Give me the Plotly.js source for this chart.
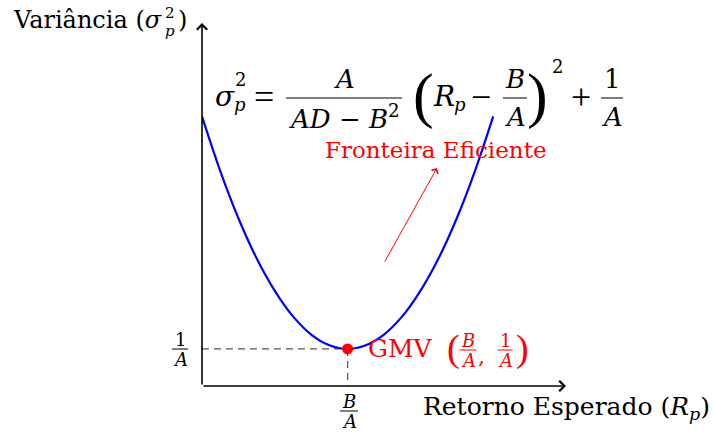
<!DOCTYPE html>
<html>
<head>
<meta charset="utf-8">
<script src="https://cdn.plot.ly/plotly-3.0.1.min.js"></script>
<style>
  body { margin: 0; background: #fff; }
  #chart { width: 713px; height: 434px; }
</style>
</head>
<body>
<div id="chart"></div>
<script>
// curve (Rp vs sigma^2), vertex at GMV
const retorno = [0, 0.25, 0.5, 0.75, 1, 1.25, 1.5, 1.75, 2, 2.25, 2.5, 2.75, 3, 3.25, 3.5, 3.75, 4];
const variancia = [7.28, 5.81, 4.53, 3.45, 2.57, 1.88, 1.39, 1.10, 1.0, 1.10, 1.39, 1.88, 2.57, 3.45, 4.53, 5.81, 7.28];
const gmvX = [2];
const gmvY = [1];
const xMax = 5;
const yMax = 9.8;

// plot box in pixels; text pieces are placed in paper units from pixel spots
const X0 = 202, Y0 = 386, W = 364, H = 363;
const px2 = px => (px - X0) / W;
const py2 = py => (Y0 - py) / H;

const FONT = 'DejaVu Serif';
const THIN = 'Liberation Serif';
const annotations = [];
const shapes = [];

function txt(px, py, text, size, color, xanchor, family) {
  annotations.push({
    x: px2(px), y: py2(py), xref: 'paper', yref: 'paper',
    text: text, showarrow: false,
    xanchor: xanchor || 'center', yanchor: 'middle',
    font: { family: family || FONT, size: size, color: color || '#000' }
  });
}

function frac(cx, barY, w, num, den, size, color, gapN, gapD) {
  txt(cx, barY - gapN, num, size, color);
  txt(cx, barY + gapD, den, size, color);
  shapes.push({
    type: 'line', xref: 'paper', yref: 'paper',
    x0: px2(cx - w / 2), x1: px2(cx + w / 2), y0: py2(barY), y1: py2(barY),
    line: { color: color || '#000', width: 1 }
  });
}

// y-axis title
txt(164, 20, 'Variância (<i>σ</i>', 24, '#000', 'right');
txt(170, 13, '2', 15);
txt(170, 31, '<i>p</i>', 15);
txt(176, 20, ')', 24, '#000', 'left');

// x-axis title
txt(421, 408, 'Retorno Esperado (<i>R</i><sub><i>p</i></sub>)', 25, '#000', 'left');

// formula
txt(225, 96, '<i>σ</i>', 28);
txt(240, 79, '2', 18);
txt(240, 104, '<i>p</i>', 18);
txt(264, 97, '=', 36, '#000', 'center', THIN);
frac(344, 98, 116, '<i>A</i>', '<i>AD</i> − <i>B</i><sup>2</sup>', 26, '#000', 19, 19);
txt(423, 95, '(', 62, '#000', 'center', THIN);
txt(444, 96, '<i>R</i>', 28);
txt(460, 104, '<i>p</i>', 18);
txt(481, 97, '−', 36, '#000', 'center', THIN);
frac(515, 98, 24, '<i>B</i>', '<i>A</i>', 26, '#000', 19, 19);
txt(537, 95, ')', 62, '#000', 'center', THIN);
txt(557, 66, '2', 18);
txt(581, 97, '+', 36, '#000', 'center', THIN);
frac(612, 98, 22, '1', '<i>A</i>', 26, '#000', 19, 19);

// labels
txt(436, 150, 'Fronteira Eficiente', 23, '#ff0000');
txt(366, 348, 'GMV', 25, '#ff0000', 'left');
txt(453, 348, '(', 38, '#ff0000', 'center', THIN);
frac(468, 350, 17, '<i>B</i>', '<i>A</i>', 18, '#ff0000', 10, 10);
txt(481, 356, ',', 22, '#ff0000');
frac(505, 350, 15, '1', '<i>A</i>', 18, '#ff0000', 10, 10);
txt(522, 348, ')', 38, '#ff0000', 'center', THIN);

// tick labels
frac(180, 349, 16, '1', '<i>A</i>', 18, '#000', 10, 10);
frac(349, 411, 18, '<i>B</i>', '<i>A</i>', 18, '#000', 10, 10);

// axes with arrows
annotations.push({
  x: xMax, y: 0, ax: 0, ay: 0, xref: 'x', yref: 'y', axref: 'x', ayref: 'y',
  text: '', showarrow: true, arrowhead: 4, arrowsize: 1.25, arrowwidth: 1.6, arrowcolor: '#000'
});
annotations.push({
  x: 0, y: yMax, ax: 0, ay: 0, xref: 'x', yref: 'y', axref: 'x', ayref: 'y',
  text: '', showarrow: true, arrowhead: 4, arrowsize: 1.25, arrowwidth: 1.6, arrowcolor: '#000'
});
// pointer to the frontier label
annotations.push({
  x: px2(437), y: py2(168), ax: px2(384), ay: py2(263),
  xref: 'paper', yref: 'paper', axref: 'paper', ayref: 'paper',
  text: '', showarrow: true, arrowhead: 4, arrowsize: 1.4, arrowwidth: 1, arrowcolor: '#ff0000'
});

const data = [
  {
    x: [0, gmvX[0]], y: [gmvY[0], gmvY[0]], type: 'scatter', mode: 'lines',
    line: { color: '#555', width: 1.2, dash: '7px,5px' }, hoverinfo: 'skip'
  },
  {
    x: [gmvX[0], gmvX[0]], y: [gmvY[0], 0], type: 'scatter', mode: 'lines',
    line: { color: '#555', width: 1.2, dash: '7px,5px' }, hoverinfo: 'skip'
  },
  {
    x: retorno, y: variancia, type: 'scatter', mode: 'lines',
    line: { color: '#0000ff', width: 2.2, shape: 'spline' }
  },
  {
    x: gmvX, y: gmvY, type: 'scatter', mode: 'markers',
    marker: { color: '#ff0000', size: 11 }
  }
];

const layout = {
  width: 713, height: 434,
  margin: { l: X0, r: 713 - X0 - W, t: Y0 - H, b: 434 - Y0 },
  paper_bgcolor: '#fff', plot_bgcolor: '#fff',
  showlegend: false,
  xaxis: { range: [0, xMax], visible: false, fixedrange: true },
  yaxis: { range: [0, yMax], visible: false, fixedrange: true },
  annotations: annotations,
  shapes: shapes
};

Plotly.newPlot('chart', data, layout, { staticPlot: true });
</script>
</body>
</html>
